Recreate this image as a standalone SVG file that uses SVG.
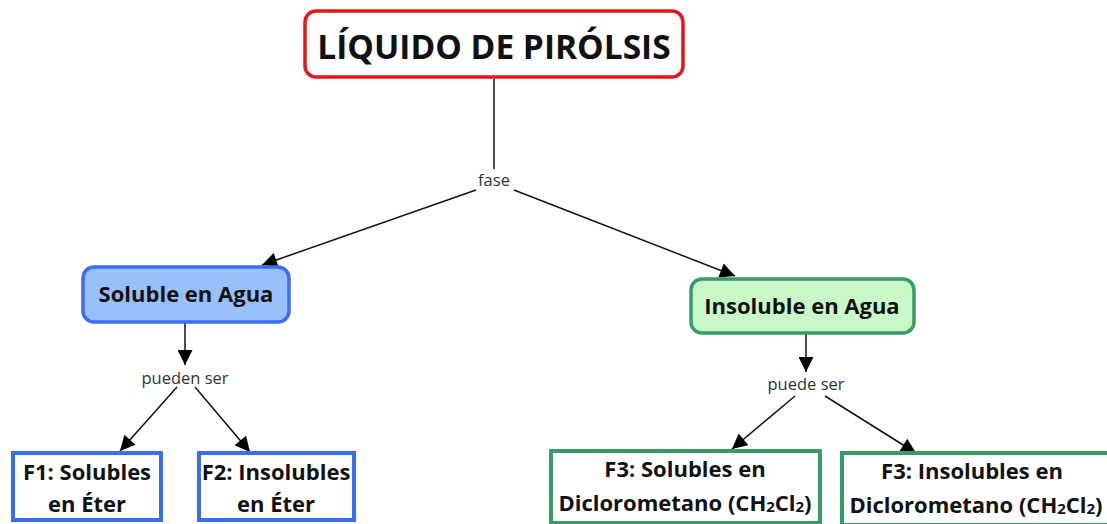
<svg xmlns="http://www.w3.org/2000/svg" width="1107" height="524" viewBox="0 0 1107 524">
<defs>
<marker id="arr" viewBox="0 0 10 10" refX="10" refY="5" markerWidth="16" markerHeight="15" markerUnits="userSpaceOnUse" orient="auto">
<path d="M0,0 L10,5 L0,10 Z" fill="#000"/>
</marker>
<style>
.t{font-family:"Open Sans","Liberation Sans",sans-serif;font-weight:bold;fill:#111;text-anchor:middle}
.lab{font-family:"Open Sans","Liberation Sans",sans-serif;font-size:16.5px;fill:#333;text-anchor:middle}
.c{stroke:#111;stroke-width:1.5;fill:none}
.ca{stroke:#111;stroke-width:1.5;fill:none;marker-end:url(#arr)}
.sub{font-size:15px}
</style>
</defs>
<rect width="1107" height="524" fill="#fff"/>
<g id="connectors">
<line class="c" x1="494" y1="79" x2="494" y2="169"/>
<line class="ca" x1="476" y1="190" x2="262" y2="265"/>
<line class="ca" x1="514" y1="190" x2="735" y2="276"/>
<line class="ca" x1="185" y1="323" x2="185" y2="365"/>
<line class="ca" x1="177" y1="387" x2="120" y2="451"/>
<line class="ca" x1="195" y1="387" x2="250" y2="452"/>
<line class="ca" x1="806" y1="334" x2="806" y2="372"/>
<line class="ca" x1="795" y1="396" x2="732" y2="449"/>
<line class="ca" x1="825" y1="396" x2="916" y2="453"/>
<text class="lab" x="494" y="186">fase</text>
<text class="lab" x="185" y="384">pueden ser</text>
<text class="lab" x="806" y="390">puede ser</text>
</g>
<g id="n-title">
<rect x="305" y="11" width="378" height="66" rx="11" fill="#fff" stroke="#e8141c" stroke-width="3.5"/>
<text class="t" x="494" y="59" font-size="33.5">LÍQUIDO DE PIRÓLSIS</text>
</g>
<g id="n-soluble">
<rect x="83" y="267" width="206" height="55" rx="11" fill="#99c0fb" stroke="#3b6cf5" stroke-width="3.5"/>
<text class="t" x="186" y="302" font-size="22">Soluble en Agua</text>
</g>
<g id="n-insoluble">
<rect x="691" y="279" width="223" height="54" rx="11" fill="#c8f7c8" stroke="#3a9a6a" stroke-width="3.5"/>
<text class="t" x="802" y="314" font-size="22">Insoluble en Agua</text>
</g>
<g id="n-f1">
<rect x="13" y="453" width="148" height="67" fill="#fff" stroke="#3b6cf5" stroke-width="4"/>
<text class="t" x="87" y="480" font-size="22">F1: Solubles</text>
<text class="t" x="87" y="512" font-size="22">en Éter</text>
</g>
<g id="n-f2">
<rect x="199" y="453" width="155" height="67" fill="#fff" stroke="#3b6cf5" stroke-width="4"/>
<text class="t" x="276" y="480" font-size="22">F2: Insolubles</text>
<text class="t" x="276" y="512" font-size="22">en Éter</text>
</g>
<g id="n-f3a">
<rect x="551" y="451" width="269" height="72" fill="#fff" stroke="#3a9a6a" stroke-width="4"/>
<text class="t" x="685" y="477" font-size="22">F3: Solubles en</text>
<text class="t" x="685" y="511" font-size="22">Diclorometano (CH<tspan class="sub" dy="1">2</tspan><tspan dy="-1">Cl</tspan><tspan class="sub" dy="1">2</tspan><tspan dy="-1">)</tspan></text>
</g>
<g id="n-f3b">
<rect x="842" y="453" width="272" height="72" fill="#fff" stroke="#3a9a6a" stroke-width="4"/>
<text class="t" x="972" y="479" font-size="22">F3: Insolubles en</text>
<text class="t" x="976" y="513" font-size="22">Diclorometano (CH<tspan class="sub" dy="1">2</tspan><tspan dy="-1">Cl</tspan><tspan class="sub" dy="1">2</tspan><tspan dy="-1">)</tspan></text>
</g>
</svg>
